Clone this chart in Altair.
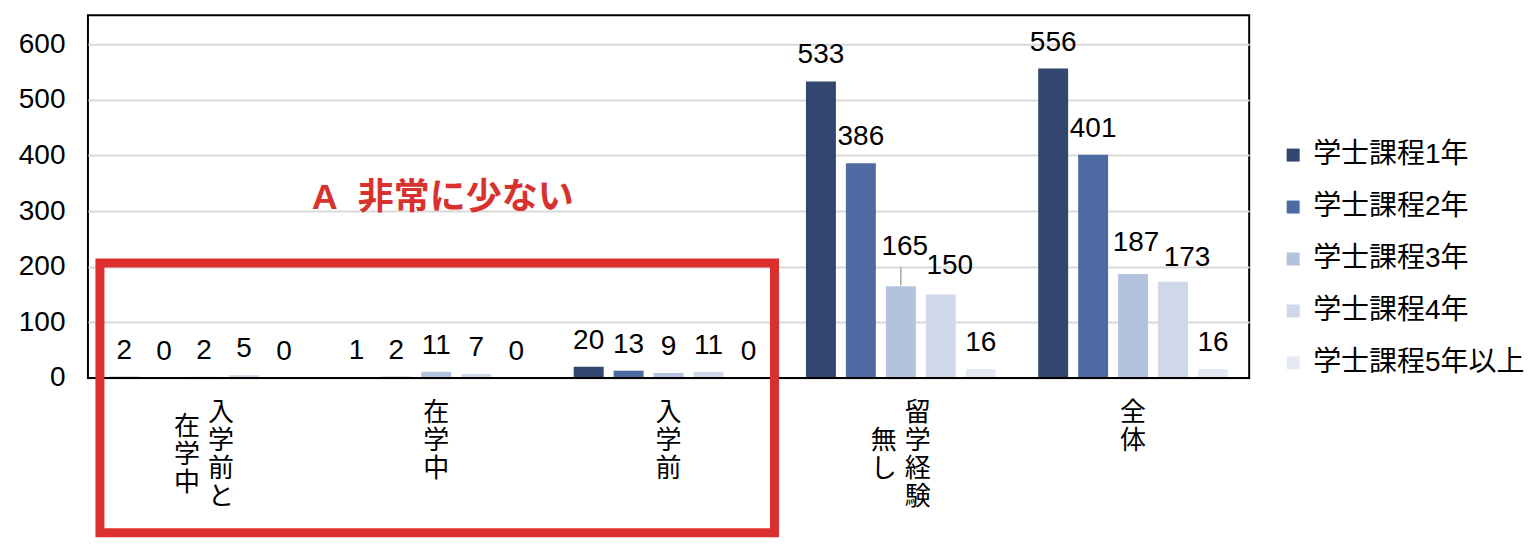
import altair as alt
import pandas as pd

# ---- data ----
categories = ["入学前と在学中", "在学中", "入学前", "留学経験無し", "全体"]
series = ["学士課程1年", "学士課程2年", "学士課程3年", "学士課程4年", "学士課程5年以上"]
year1 = [2, 1, 20, 533, 556]
year2 = [0, 2, 13, 386, 401]
year3 = [2, 11, 9, 165, 187]
year4 = [5, 7, 11, 150, 173]
year5 = [0, 0, 0, 16, 16]
y_ticks = [0, 100, 200, 300, 400, 500, 600]
colors = ["#33466f", "#4e6aa2", "#b4c3dd", "#cfd8e8", "#e4e9f3"]
annotation_text = "A\u00a0\u00a0非常に少ない"

FONT = "Liberation Sans, Noto Sans CJK JP, sans-serif"
FS = 28
W, H = 1162, 363

rows = []
for s, vals in zip(series, [year1, year2, year3, year4, year5]):
    for c, v in zip(categories, vals):
        rows.append({"category": c, "series": s, "value": v})
df = pd.DataFrame(rows)

# label nudges (Excel-like placement), (dx, dy)
NUDGE = {
    ("留学経験無し", "学士課程3年"): (4, -31),
    ("留学経験無し", "学士課程4年"): (9, -20),
    ("全体", "学士課程3年"): (3, -23),
    ("全体", "学士課程4年"): (14, -16),
}

xscale = alt.Scale(domain=categories, paddingInner=0.14, paddingOuter=0.07)
oscale = alt.Scale(domain=series, paddingInner=0.25, paddingOuter=0.125)
yscale = alt.Scale(domain=[0, 652], nice=False)

X = alt.X("category:N", sort=categories, scale=xscale, axis=None)
XO = alt.XOffset("series:N", sort=series, scale=oscale)

base = alt.Chart(df)

bars = base.mark_bar().encode(
    x=X,
    xOffset=XO,
    y=alt.Y("value:Q", scale=yscale, title=None,
            axis=alt.Axis(values=y_ticks, labelFontSize=FS, labelFont=FONT,
                          labelColor="black", labelPadding=23, ticks=False,
                          domain=False, grid=True, gridColor="#d9d9d9",
                          gridWidth=2, minExtent=80, maxExtent=80)),
    color=alt.Color("series:N", sort=series,
                    scale=alt.Scale(domain=series, range=colors),
                    legend=alt.Legend(title=None, orient="none", legendX=1192,
                                      legendY=126, symbolType="square",
                                      symbolSize=169, symbolStrokeWidth=0,
                                      labelFontSize=FS, labelFont=FONT,
                                      labelColor="black", labelOffset=6,
                                      labelLimit=400,
                                      rowPadding=24, padding=0)),
)

baseline = base.mark_rule(color="black", strokeWidth=2).encode(y=alt.datum(0))

nudge_test = " || ".join(
    f"(datum.category === '{c}' && datum.series === '{s}')" for (c, s) in NUDGE
)

labels = base.transform_filter(f"!({nudge_test})").mark_text(
    baseline="alphabetic", dy=-18, fontSize=FS, font=FONT, color="black"
).encode(x=X, xOffset=XO, y=alt.Y("value:Q", scale=yscale), text="value:Q")

layers = [bars, baseline, labels]

for (c, s), (ddx, ddy) in NUDGE.items():
    layers.append(
        base.transform_filter(
            f"datum.category === '{c}' && datum.series === '{s}'"
        ).mark_text(baseline="alphabetic", dx=ddx, dy=ddy, fontSize=FS,
                    font=FONT, color="black").encode(
            x=X, xOffset=XO, y=alt.Y("value:Q", scale=yscale), text="value:Q")
    )

# leader line for the 165 label
layers.append(
    base.transform_filter(
        "datum.category === '留学経験無し' && datum.series === '学士課程3年'"
    ).mark_rule(color="#a6a6a6", strokeWidth=1.5, yOffset=-1, y2Offset=-19).encode(
        x=X, xOffset=XO, y=alt.Y("value:Q", scale=yscale), y2="value:Q")
)

# vertical category labels (columns read right to left, 4 characters per column)
lab_rows = []
for c in categories:
    cols = [c[i:i + 4] for i in range(0, len(c), 4)]
    maxlen = max(len(t) for t in cols)
    n = len(cols)
    for j, t in enumerate(cols):
        shift = 0 if n == 1 else (17 if j == 0 else -17)
        top = 385 + (maxlen - len(t)) * 14
        lab_rows.append({"category": c, "text": "\n".join(t),
                         "key": f"{shift}_{top}", "shift": shift, "top": top})
lab_df = pd.DataFrame(lab_rows)
for key, g in lab_df.groupby("key"):
    shift = int(g["shift"].iloc[0])
    top = int(g["top"].iloc[0])
    layers.append(
        alt.Chart(lab_df).transform_filter(f"datum.key === '{key}'").mark_text(
            baseline="top", align="center", lineBreak="\n", lineHeight=28,
            fontSize=26, font=FONT, color="black", dx=shift
        ).encode(x=X, y=alt.value(top), text="text:N")
    )

# annotation
ann = alt.Chart(pd.DataFrame({"t": [annotation_text]})).mark_text(
    fontSize=36, fontWeight="bold", font=FONT, color="#d8322e",
    baseline="middle", align="center"
).encode(x=alt.value(355), y=alt.value(183), text="t:N")

box = alt.Chart(pd.DataFrame({"t": [0]})).mark_rect(
    filled=False, stroke="#dc2f2f", strokeWidth=9
).encode(x=alt.value(12), x2=alt.value(687), y=alt.value(248), y2=alt.value(518))

layers += [ann, box]

chart = alt.layer(*layers).properties(
    width=W, height=H,
    padding={"left": 0, "top": 7, "right": 0, "bottom": 0},
).configure_view(stroke="black", strokeWidth=2)

chart.save("out.html", embed_options={"renderer": "svg", "actions": False})
